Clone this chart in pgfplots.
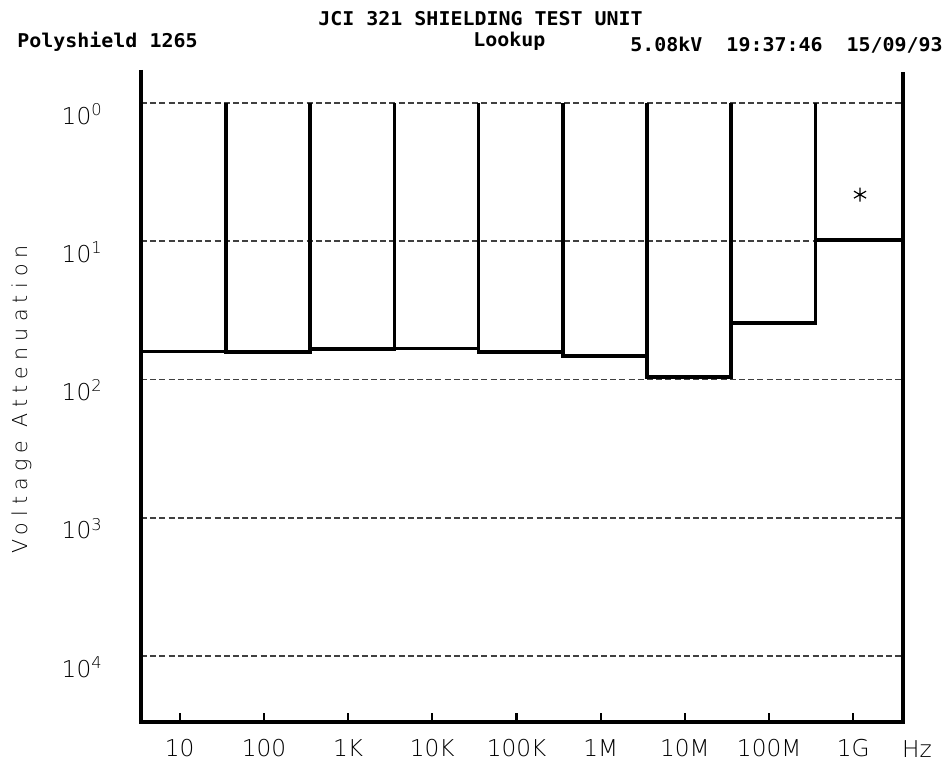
\documentclass[border=0pt]{standalone}
\usepackage{pgfplots}
\pgfplotsset{compat=1.18}
\usepackage{fontspec}
\setmainfont{DejaVu Sans}
\newfontfamily\thinfont{DejaVu Sans ExtraLight}
\newfontfamily\ylabfont{DejaVu Sans ExtraLight}[LetterSpace=30]
\newfontfamily\headfont{DejaVu Sans Mono}[FakeStretch=1.05]

\begin{document}
\begin{tikzpicture}[x=1bp,y=1bp]
\useasboundingbox (-70.5,-23.5) rectangle (402,361);
\begin{axis}[
  at={(0,0)}, anchor=south west,
  scale only axis, width=381bp, height=326bp,
  xmode=log, ymode=log, y dir=reverse,
  xmin=3.467, xmax=3.89e9, ymin=0.577, ymax=30000,
  clip=false,
  axis line style={draw=none},
  xtick={10,100,1000,1e4,1e5,1e6,1e7,1e8,1e9},
  xticklabels={10,100,1K,10K,100K,1M,10M,100M,1G},
  ytick={1,10,100,1000,10000},
  yticklabels={10\textsuperscript{0},10\textsuperscript{1},10\textsuperscript{2},10\textsuperscript{3},10\textsuperscript{4}},
  xminorticks=false, yminorticks=false,
  ymajorgrids,
  major grid style={dash pattern=on 3bp off 1.6bp, line width=0.9bp, black!75},
  tick align=inside, major tick length=4.5bp,
  xtick pos=lower,
  xtick style={draw=black, line width=1.1bp},
  ytick style={draw=none},
  ticklabel style={font=\thinfont\fontsize{11.6bp}{12bp}\selectfont, inner sep=0pt},
  xticklabel style={anchor=base, yshift=-17bp},
  yticklabel style={anchor=base east, xshift=-19bp, yshift=-10.5bp},
]
% axis frame (no top line)
\draw[line width=1.6bp, black] (axis cs:3.467,0.577) -- (axis cs:3.467,30000) -- (axis cs:3.89e9,30000) -- (axis cs:3.89e9,0.6);
% step outline of attenuation per decade band
\addplot[black, line width=1.8bp, line join=miter] coordinates {
 (3.467,1) (3.467,62.5) (35.48,62.5) (35.48,1)
 (35.48,63.0) (354.8,63.0) (354.8,1)
 (354.8,60.0) (3548,60.0) (3548,1)
 (3548,59.6) (35481,59.6) (35481,1)
 (35481,63.0) (354813,63.0) (354813,1)
 (354813,67.6) (3.548e6,67.6) (3.548e6,1)
 (3.548e6,95.5) (3.548e7,95.5) (3.548e7,1)
 (3.548e7,38.9) (3.548e8,38.9) (3.548e8,1)
 (3.548e8,9.8) (3.89e9,9.8) (3.89e9,1)
};
\addplot[only marks, mark=asterisk, mark size=3.5bp, mark options={line width=0.6bp, black}] coordinates {(1.2e9,4.6)};
\end{axis}
\node[anchor=base, inner sep=0pt, font=\thinfont\fontsize{11.6bp}{12bp}\selectfont] at ({(917-141)*0.5},{(722-757)*0.5}) {Hz};
\node[anchor=base, inner sep=0pt, rotate=90, font=\ylabfont\fontsize{10.3bp}{12bp}\selectfont] at ({(28-141)*0.5},{(722-399.5)*0.5}) {Voltage Attenuation};
\node[anchor=base west, inner sep=0pt, font=\headfont\bfseries\fontsize{9.5bp}{10bp}\selectfont] at ({(318-141)*0.5},{(722-25)*0.5}) {JCI 321 SHIELDING TEST UNIT};
\node[anchor=base west, inner sep=0pt, font=\headfont\bfseries\fontsize{9.5bp}{10bp}\selectfont] at ({(17-141)*0.5},{(722-47)*0.5}) {Polyshield 1265};
\node[anchor=base west, inner sep=0pt, font=\headfont\bfseries\fontsize{9.5bp}{10bp}\selectfont] at ({(473-141)*0.5},{(722-46)*0.5}) {Lookup};
\node[anchor=base west, inner sep=0pt, font=\headfont\bfseries\fontsize{9.5bp}{10bp}\selectfont] at ({(630-141)*0.5},{(722-51)*0.5}) {5.08kV\ \ 19:37:46\ \ 15/09/93};
\end{tikzpicture}
\end{document}
